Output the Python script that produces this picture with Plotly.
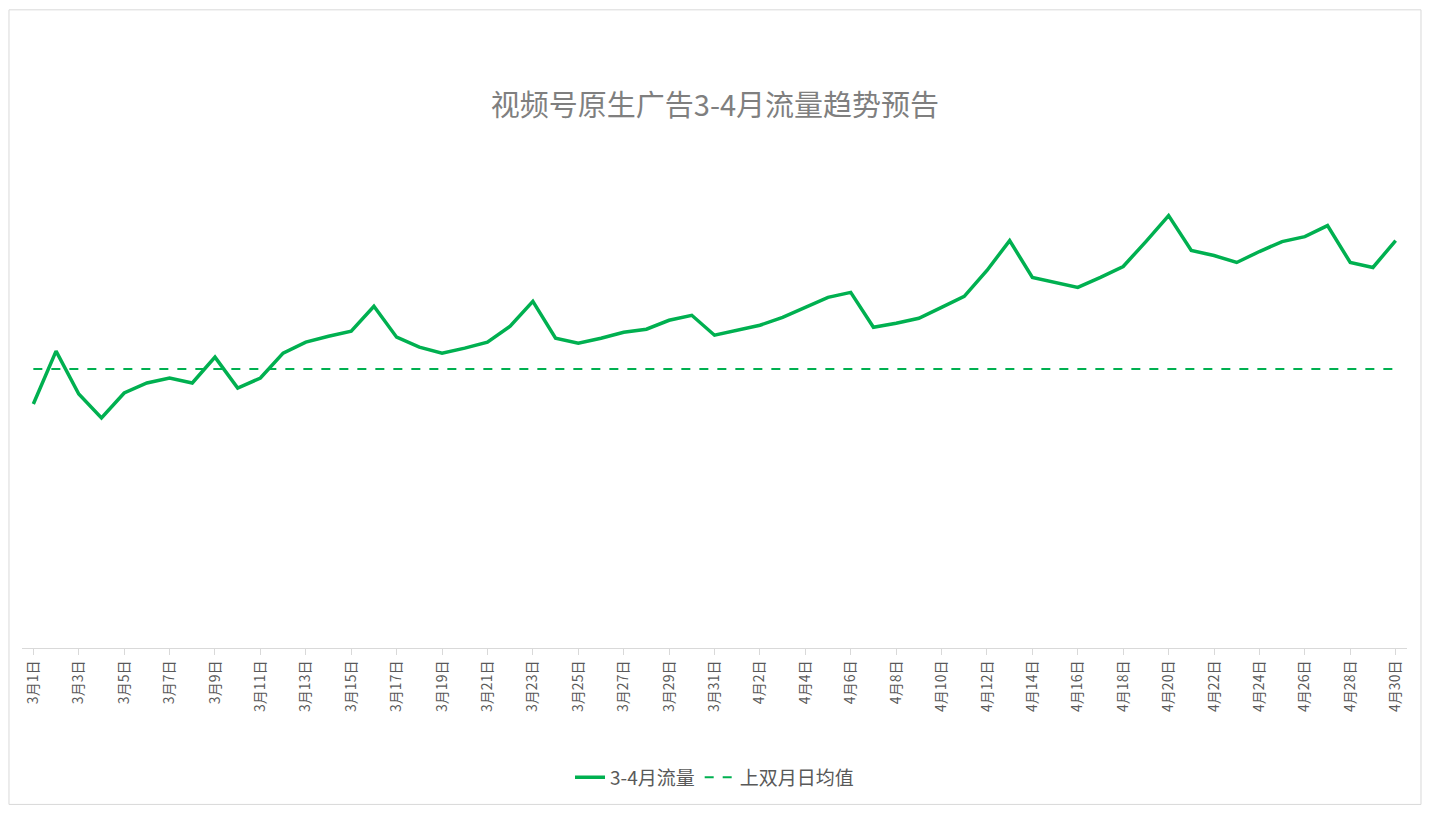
import plotly.graph_objects as go

dates = [f"3月{d}日" for d in range(1, 32)] + [f"4月{d}日" for d in range(1, 31)]
traffic = [245, 298, 255, 231, 256, 266, 271, 266, 292, 261, 271, 296, 307, 313, 318, 343,
           312, 302, 296, 301, 307, 323, 348, 311, 306, 311, 317, 320, 329, 334, 314, 319,
           324, 332, 342, 352, 357, 322, 326, 331, 342, 353, 379, 409, 372, 367, 362, 372,
           383, 408, 434, 399, 394, 387, 398, 408, 413, 424, 387, 382, 409]
avg_value = 280

font = "Noto Sans CJK SC, Microsoft YaHei, sans-serif"

fig = go.Figure()
fig.add_trace(go.Scatter(x=list(range(len(dates))), y=traffic, mode="lines", name="3-4月流量",
                         line=dict(color="#00B050", width=3.5)))
fig.add_trace(go.Scatter(x=list(range(len(dates))), y=[avg_value] * len(dates), mode="lines",
                         name="上双月日均值", line=dict(color="#00B050", width=2, dash="dash")))

fig.update_layout(
    width=1414, height=800,
    paper_bgcolor="white", plot_bgcolor="white",
    margin=dict(l=14, r=15, t=122, b=158),
    font=dict(family=font, color="#595959"),
    title=dict(text="视频号原生广告3-4月流量趋势预告", x=0.5, y=0.89, xanchor="center",
               font=dict(size=29, color="#7f7f7f")),
    showlegend=True,
    legend=dict(orientation="h", x=0.5, xanchor="center", y=-0.25, yanchor="middle",
                font=dict(size=19, color="#595959")),
    xaxis=dict(range=[-0.5, len(dates) - 0.5], tickmode="array",
               tickvals=list(range(0, len(dates), 2)), ticktext=dates[::2],
               tickangle=-90, tickfont=dict(size=14), showgrid=False, zeroline=False,
               showline=True, linecolor="#d9d9d9", ticks="outside", ticklen=6,
               tickcolor="#d9d9d9"),
    yaxis=dict(range=[0, 520], visible=False),
    shapes=[dict(type="rect", xref="paper", yref="paper", x0=-0.0094, x1=1.0101,
                 y0=-0.302, y1=1.232, line=dict(color="#d9d9d9", width=1))],
)

fig.write_html("out.html")
